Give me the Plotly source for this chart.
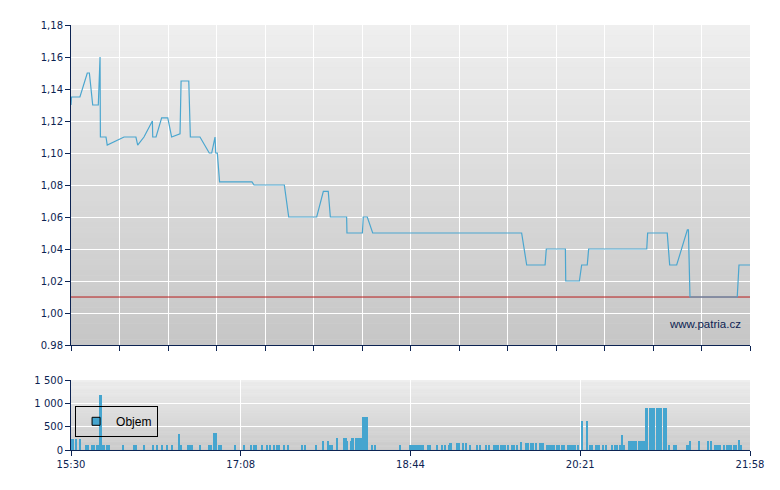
import plotly.graph_objects as go

# minutes after 15:30 and the traded price
price_min = [0, 0.3, 5.1, 9.3, 10.5, 12.4, 15.6, 16.6, 16.8, 20, 20.7, 30.3, 37.1, 38.1, 41.7, 46.5,
             46.7, 48.6, 51.8, 55.3, 57.5, 62.3, 62.9, 67.3, 68.2, 73.7, 79, 80.4, 82.3, 82.7, 83.6,
             84.9, 103.4, 104.6, 121.9, 124.4, 140.4, 144.2, 147, 148.2, 157.5, 157.7, 166.5, 167,
             169.3, 172.4, 257.5, 260.4, 270.9, 271.6, 282.5, 282.7, 290.5, 291.8, 295, 295.8, 329,
             329.5, 340.7, 342.1, 346.1, 352.2, 352.8, 353.7, 380.7, 381.7, 388]
price_val = [1.130, 1.135, 1.135, 1.150, 1.150, 1.130, 1.130, 1.160, 1.110, 1.110, 1.105, 1.110, 1.110,
             1.105, 1.110, 1.120, 1.110, 1.110, 1.122, 1.122, 1.110, 1.112, 1.145, 1.145, 1.110, 1.110,
             1.100, 1.100, 1.110, 1.100, 1.100, 1.082, 1.082, 1.080, 1.080, 1.060, 1.060, 1.076, 1.076,
             1.060, 1.060, 1.050, 1.050, 1.060, 1.060, 1.050, 1.050, 1.030, 1.030, 1.040, 1.040, 1.020,
             1.020, 1.030, 1.030, 1.040, 1.040, 1.050, 1.050, 1.030, 1.030, 1.052, 1.052, 1.010, 1.010,
             1.030, 1.030]
ref_price = 1.01

# volume per minute
vol_min = [0, 1, 3, 5, 9, 10, 12, 13, 15, 16, 17, 18, 19, 21, 22, 30, 36, 37, 42, 47, 49, 52, 55, 58,
           62, 63, 67, 68, 69, 74, 79, 80, 82, 83, 85, 86, 94, 99, 103, 105, 106, 109, 112, 114, 116,
           118, 119, 122, 124, 132, 134, 140, 144, 147, 148, 149, 152, 156, 157, 158, 160, 161, 163,
           164, 165, 166, 167, 168, 169, 172, 174, 188, 194, 195, 196, 197, 198, 199, 200, 201, 204,
           205, 209, 212, 214, 216, 217, 221, 222, 224, 226, 228, 232, 234, 237, 239, 242, 243, 244,
           246, 247, 248, 250, 252, 253, 255, 257, 260, 261, 263, 264, 266, 268, 269, 270, 272, 273,
           274, 275, 276, 278, 279, 281, 282, 284, 285, 286, 287, 288, 290, 292, 295, 297, 298, 300,
           301, 302, 304, 306, 309, 311, 312, 314, 315, 316, 319, 320, 321, 322, 323, 325, 326, 327,
           328, 329, 331, 332, 333, 335, 336, 337, 339, 340, 342, 345, 346, 352, 353, 354, 359, 364,
           366, 368, 369, 370, 371, 373, 375, 376, 377, 379, 380, 382, 383]
vol_val = [240, 240, 240, 240, 110, 110, 110, 110, 110, 110, 1170, 110, 110, 110, 110, 110, 110, 110,
           110, 110, 110, 110, 110, 110, 350, 110, 110, 110, 110, 110, 110, 110, 370, 370, 110, 110,
           110, 110, 110, 110, 110, 110, 110, 110, 110, 110, 110, 110, 110, 110, 110, 110, 200, 200,
           110, 110, 265, 265, 265, 200, 200, 265, 265, 265, 265, 265, 715, 715, 715, 110, 110, 110,
           110, 110, 110, 110, 110, 110, 110, 110, 110, 110, 110, 110, 110, 110, 150, 150, 150, 150,
           150, 110, 110, 110, 110, 110, 110, 110, 110, 110, 110, 110, 110, 110, 110, 110, 180, 150,
           150, 150, 150, 150, 150, 150, 150, 110, 110, 110, 110, 110, 110, 110, 110, 110, 110, 110,
           110, 110, 110, 110, 630, 630, 110, 110, 110, 110, 110, 110, 110, 110, 110, 110, 110, 330,
           110, 200, 200, 200, 200, 200, 200, 200, 200, 200, 890, 890, 890, 890, 890, 890, 890, 890,
           890, 110, 110, 110, 110, 110, 200, 200, 200, 200, 110, 110, 110, 110, 110, 110, 110, 110,
           110, 110, 220, 110]

session_len = 388
time_labels = ["15:30", "17:08", "18:44", "20:21", "21:58"]
price_ticks = [0.98, 1.00, 1.02, 1.04, 1.06, 1.08, 1.10, 1.12, 1.14, 1.16, 1.18]
price_ticktext = ["0.98", "1,00", "1,02", "1,04", "1,06", "1,08", "1,10", "1,12", "1,14", "1,16", "1,18"]
vol_ticks = [0, 500, 1000, 1500]
vol_ticktext = ["0", "500", "1 000", "1 500"]

navy = "#0c2352"
blue = "#4aa6cf"

vset = set(vol_min)
vol_width = [1.0 if (m - 1 in vset or m + 1 in vset) else 0.6 for m in vol_min]

fig = go.Figure()
# reference (previous close) line
fig.add_trace(go.Scatter(x=[0, session_len], y=[ref_price, ref_price], mode="lines",
                         line=dict(color="#b81c1c", width=1), showlegend=False,
                         hoverinfo="skip", xaxis="x", yaxis="y"))
fig.add_trace(go.Scatter(x=price_min, y=price_val, mode="lines",
                         line=dict(color=blue, width=1.2), showlegend=False,
                         xaxis="x", yaxis="y"))
fig.add_trace(go.Bar(x=vol_min, y=vol_val, width=vol_width, marker_color="#45a5cf",
                     marker_line_width=0, showlegend=False, xaxis="x2", yaxis="y2"))
# legend entry
fig.add_trace(go.Scatter(x=[None], y=[None], mode="markers", name="Objem",
                         marker=dict(symbol="square", size=8, color="#45a5cf",
                                     line=dict(color="black", width=1)),
                         xaxis="x2", yaxis="y2"))


def gradient(xref, yref, y0, y1, top, bottom, n=60):
    out = []
    for i in range(n):
        f = (i + 0.5) / n
        c = [int(round(bottom[k] + (top[k] - bottom[k]) * f)) for k in range(3)]
        a = y0 + (y1 - y0) * i / n
        b = y0 + (y1 - y0) * (i + 1.05) / n
        out.append(dict(type="rect", xref=xref, yref=yref,
                        x0=0, x1=1, y0=a, y1=min(b, y1), layer="below", line_width=0,
                        fillcolor="rgb(%d,%d,%d)" % tuple(c)))
    return out


shapes = gradient("x domain", "y", 0.98, 1.18, (239, 239, 239), (198, 198, 198))
shapes += gradient("x2 domain", "y2", 0, 1500, (239, 239, 239), (201, 201, 201))

axis_common = dict(showline=True, linecolor=navy, linewidth=1, ticks="outside", ticklen=5,
                   tickcolor=navy, gridcolor="white", gridwidth=1, zeroline=False,
                   automargin=False,
                   tickfont=dict(family="DejaVu Sans", size=10, color=navy))

# the page body keeps an 8px margin, so the figure is shrunk by that amount
fig.update_layout(
    width=772, height=482,
    margin=dict(l=63, r=30, t=17, b=40),
    paper_bgcolor="white", plot_bgcolor="#dddddd",
    shapes=shapes,
    xaxis=dict(axis_common, domain=[0, 1], range=[0, session_len], anchor="y",
               tickvals=[session_len * i / 14 for i in range(15)], showticklabels=False),
    yaxis=dict(axis_common, domain=[0.247, 1], range=[0.98, 1.18], anchor="x",
               tickvals=price_ticks, ticktext=price_ticktext),
    xaxis2=dict(axis_common, domain=[0, 1], range=[0, session_len], anchor="y2",
                tickvals=[session_len * i / 4 for i in range(5)], ticktext=time_labels),
    yaxis2=dict(axis_common, domain=[0, 0.1647], range=[0, 1500], anchor="x2",
                tickvals=vol_ticks, ticktext=vol_ticktext),
    bargap=0,
    legend=dict(x=0.006, y=0.104, xanchor="left", yanchor="top", bgcolor="rgba(0,0,0,0)",
                bordercolor="black", borderwidth=1, itemwidth=30,
                font=dict(family="Liberation Sans", size=12, color="black")),
    annotations=[dict(text="www.patria.cz", xref="x domain", yref="y", x=0.99, y=0.993,
                      xanchor="right", yanchor="middle", showarrow=False,
                      font=dict(family="Liberation Sans", size=11.5, color=navy))],
)

fig.write_html("out.html")
